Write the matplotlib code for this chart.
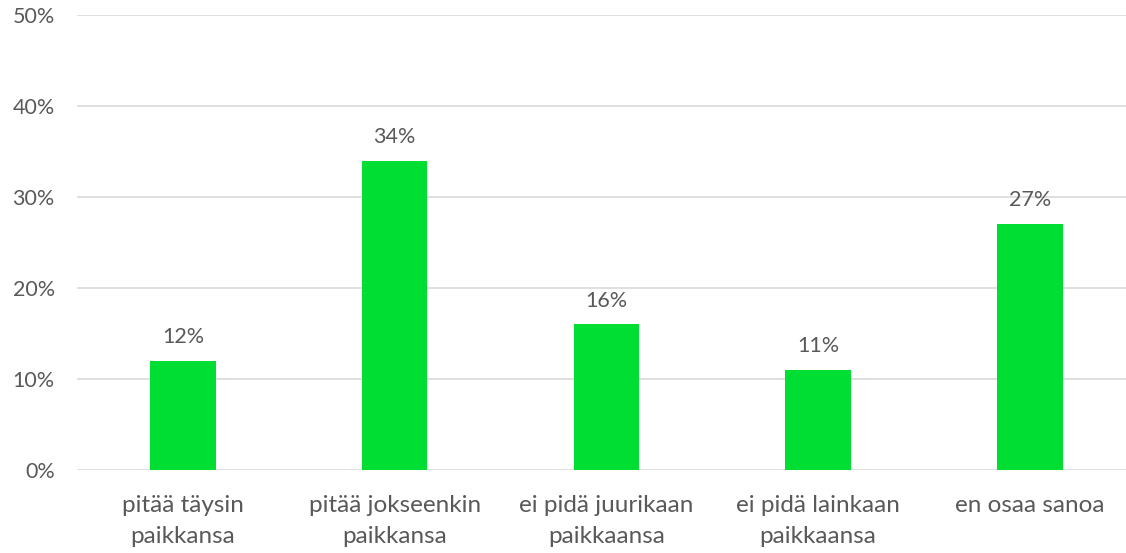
import matplotlib
matplotlib.use("Agg")
import matplotlib.pyplot as plt
from matplotlib.ticker import PercentFormatter

categories = ["pitää täysin\npaikkansa", "pitää jokseenkin\npaikkansa",
              "ei pidä juurikaan\npaikkaansa", "ei pidä lainkaan\npaikkaansa",
              "en osaa sanoa"]
values = [12, 34, 16, 11, 27]

GREEN = "#00DD33"
TEXT = "#595959"
GRID = "#D9D9D9"

plt.rcParams["font.family"] = ["Lato", "DejaVu Sans"]

fig = plt.figure(figsize=(11.26, 5.53), dpi=100)
ax = fig.add_axes([77 / 1126, 83 / 553, 1 - 77 / 1126, (470 - 15) / 553])

x = list(range(len(values)))
ax.bar(x, values, width=0.31, color=GREEN, zorder=3)
for xi, v in zip(x, values):
    ax.annotate(f"{v}%", (xi, v), xytext=(0, 10), textcoords="offset points",
                ha="center", va="bottom", fontsize=15.5, color=TEXT)

ax.set_ylim(0, 50)
ax.set_xlim(-0.5, 4.454)
ax.set_yticks(range(0, 51, 10))
ax.yaxis.set_major_formatter(PercentFormatter(decimals=0))
ax.set_xticks(x)
ax.set_xticklabels(categories, fontsize=17.5, color=TEXT, linespacing=1.6)
ax.tick_params(axis="y", labelsize=15.5, labelcolor=TEXT, length=0, pad=16)
ax.tick_params(axis="x", length=0, pad=18)
ax.grid(axis="y", color=GRID, lw=1.2, zorder=0)
for s in ax.spines.values():
    s.set_visible(False)

fig.savefig("out.png", dpi=100)
